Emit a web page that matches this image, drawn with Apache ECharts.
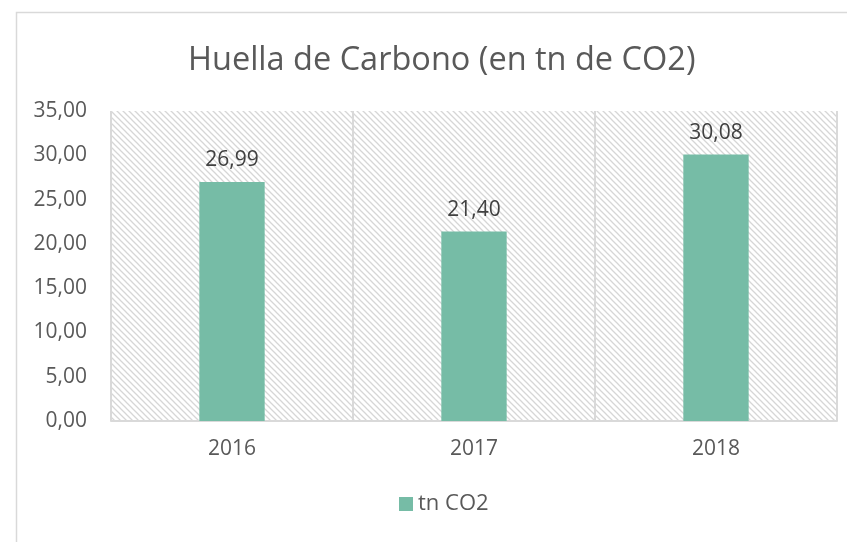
<!DOCTYPE html>
<html><head><meta charset="utf-8">
<script src="https://cdn.jsdelivr.net/npm/echarts@6/dist/echarts.min.js"></script>
<style>html,body{margin:0;padding:0;background:#fff}#c{width:847px;height:542px}</style>
</head><body><div id="c"></div>
<script>
const categories = ['2016', '2017', '2018'];
const values = [26.99, 21.40, 30.08];
const seriesName = 'tn CO2';
const titleText = 'Huella de Carbono (en tn de CO2)';

function hatch() {
  const s = 6;
  const cv = document.createElement('canvas');
  cv.width = s; cv.height = s;
  const ctx = cv.getContext('2d');
  ctx.fillStyle = '#ffffff';
  ctx.fillRect(0, 0, s, s);
  ctx.strokeStyle = '#d6d6d6';
  ctx.lineWidth = 1.3;
  ctx.beginPath();
  ctx.moveTo(-1, -1); ctx.lineTo(s + 1, s + 1);
  ctx.moveTo(-1, s - 1); ctx.lineTo(1, s + 1);
  ctx.moveTo(s - 1, -1); ctx.lineTo(s + 1, 1);
  ctx.stroke();
  return cv;
}

const font = 'Open Sans';
const chart = echarts.init(document.getElementById('c'));
chart.setOption({
  animation: false,
  textStyle: { fontFamily: font },
  graphic: [{
    type: 'rect', silent: true, z: -10,
    shape: { x: 16.5, y: 12.5, width: 900, height: 600 },
    style: { fill: 'none', stroke: '#d9d9d9', lineWidth: 1.5 }
  }],
  title: {
    text: titleText, left: 183, top: 39,
    textStyle: { fontFamily: font, fontSize: 32.5, fontWeight: 'normal', color: '#595959' }
  },
  legend: {
    bottom: 22, left: 394, itemWidth: 14, itemHeight: 14, icon: 'rect', itemGap: 6,
    textStyle: { fontFamily: font, fontSize: 22, color: '#595959' },
    data: [seriesName]
  },
  grid: {
    left: 111, right: 10, top: 111, bottom: 121, show: true,
    backgroundColor: { image: hatch(), repeat: 'repeat' }, borderWidth: 0
  },
  xAxis: {
    type: 'category', data: categories,
    axisLine: { lineStyle: { color: '#d9d9d9', width: 2 } },
    axisTick: { show: false },
    splitLine: { show: true, lineStyle: { color: '#d9d9d9', width: 2 } },
    axisLabel: { fontFamily: font, fontSize: 21, color: '#595959', margin: 18 }
  },
  yAxis: {
    type: 'value', min: 0, max: 35, interval: 5,
    axisLine: { show: false }, axisTick: { show: false },
    splitLine: { show: false },
    axisLabel: {
      fontFamily: font, fontSize: 21, color: '#595959', margin: 24,
      formatter: v => v.toFixed(2).replace('.', ',')
    }
  },
  series: [{
    name: seriesName, type: 'bar', data: values, barWidth: '27%',
    itemStyle: { color: '#76bca6' },
    label: {
      show: true, position: 'top', distance: 11,
      fontFamily: font, fontSize: 21, color: '#404040',
      formatter: p => p.value.toFixed(2).replace('.', ',')
    }
  }]
});
</script></body></html>
